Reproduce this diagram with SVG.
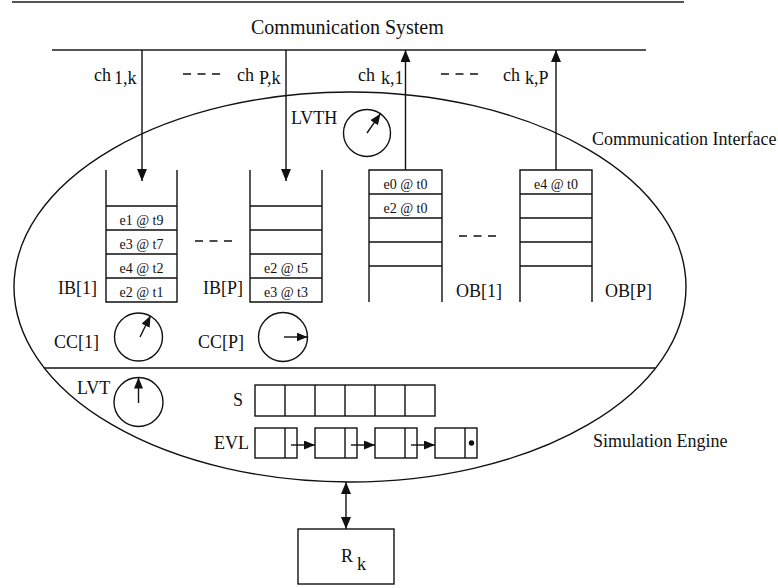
<svg xmlns="http://www.w3.org/2000/svg" width="778" height="588" viewBox="0 0 778 588">
<style>
  text { font-family: "Liberation Serif", "Times New Roman", serif; fill: #111; }
  .lbl { font-size: 18px; }
  .title { font-size: 20px; }
  .cell { font-size: 14px; text-anchor: middle; }
  .ln { stroke: #111; stroke-width: 1.4; fill: none; }
  .bus { stroke: #555; stroke-width: 2; fill: none; }
  .dash { stroke: #111; stroke-width: 1.4; stroke-dasharray: 8 6.5; fill: none; }
  .box { stroke: #111; stroke-width: 1.4; fill: #fff; }
</style>
<defs>
  <marker id="arr" viewBox="0 0 12 10" refX="12" refY="5" markerWidth="12" markerHeight="10" markerUnits="userSpaceOnUse" orient="auto-start-reverse">
    <path d="M0,0 L12,5 L0,10 z" fill="#111"/>
  </marker>
  <marker id="sarr" viewBox="0 0 11 9" refX="11" refY="4.5" markerWidth="11" markerHeight="9" markerUnits="userSpaceOnUse" orient="auto">
    <path d="M0,0 L11,4.5 L0,9 z" fill="#111"/>
  </marker>
</defs>

<g id="comm-system">
  <line class="bus" x1="12" y1="2" x2="684" y2="2"/>
  <text class="title" x="251" y="34">Communication System</text>
  <line class="bus" x1="52" y1="50" x2="646" y2="50"/>
</g>

<g id="interface-ellipse">
  <ellipse class="ln" cx="350" cy="287" rx="336" ry="195"/>
  <line class="ln" x1="44.4" y1="368" x2="655.6" y2="368"/>
  <text class="lbl" x="592" y="145">Communication Interface</text>
  <text class="lbl" x="593" y="447">Simulation Engine</text>
</g>

<g id="connectors">
  <line class="ln" x1="142" y1="50" x2="142" y2="181" marker-end="url(#arr)"/>
  <line class="ln" x1="286" y1="50" x2="286" y2="181" marker-end="url(#arr)"/>
  <line class="ln" x1="405.5" y1="170" x2="405.5" y2="50" marker-end="url(#arr)"/>
  <line class="ln" x1="556" y1="170" x2="556" y2="50" marker-end="url(#arr)"/>
  <line class="ln" x1="346" y1="482" x2="346" y2="529" marker-start="url(#arr)" marker-end="url(#arr)"/>
  <line class="dash" x1="183" y1="74" x2="220" y2="74"/>
  <line class="dash" x1="441" y1="74" x2="478" y2="74"/>
  <line class="dash" x1="195" y1="241" x2="232" y2="241"/>
  <line class="dash" x1="459" y1="236" x2="496" y2="236"/>
</g>

<g id="channel-labels">
  <text class="lbl" x="94" y="81">ch</text><text class="lbl" x="114" y="84">1,k</text>
  <text class="lbl" x="237" y="81">ch</text><text class="lbl" x="259" y="84">P,k</text>
  <text class="lbl" x="358" y="81">ch</text><text class="lbl" x="381" y="84">k,1</text>
  <text class="lbl" x="503" y="81">ch</text><text class="lbl" x="525" y="84">k,P</text>
</g>

<g id="lvth">
  <circle class="ln" cx="367" cy="133" r="23.5"/>
  <line class="ln" x1="367" y1="133" x2="380.5" y2="113.7" marker-end="url(#sarr)"/>
  <text class="lbl" x="291" y="124">LVTH</text>
</g>

<g id="ib1">
  <path class="ln" d="M106,170 V302 H177 V170 M106,206 H177 M106,230 H177 M106,254 H177 M106,278 H177"/>
  <text class="cell" x="141.5" y="225">e1 @ t9</text>
  <text class="cell" x="141.5" y="249">e3 @ t7</text>
  <text class="cell" x="141.5" y="273">e4 @ t2</text>
  <text class="cell" x="141.5" y="297">e2 @ t1</text>
  <text class="lbl" x="58" y="294">IB[1]</text>
</g>

<g id="ibp">
  <path class="ln" d="M250,170 V302 H322 V170 M250,206 H322 M250,230 H322 M250,254 H322 M250,278 H322"/>
  <text class="cell" x="286" y="273">e2 @ t5</text>
  <text class="cell" x="286" y="297">e3 @ t3</text>
  <text class="lbl" x="203" y="294">IB[P]</text>
</g>

<g id="ob1">
  <path class="ln" d="M369,302 V170 H442 V302 M369,194 H442 M369,218 H442 M369,242 H442 M369,266 H442"/>
  <text class="cell" x="405.5" y="189">e0 @ t0</text>
  <text class="cell" x="405.5" y="213">e2 @ t0</text>
  <text class="lbl" x="456" y="297">OB[1]</text>
</g>

<g id="obp">
  <path class="ln" d="M520,302 V170 H592 V302 M520,194 H592 M520,218 H592 M520,242 H592 M520,266 H592"/>
  <text class="cell" x="556" y="189">e4 @ t0</text>
  <text class="lbl" x="605" y="297">OB[P]</text>
</g>

<g id="cc1">
  <circle class="ln" cx="138.5" cy="337" r="24"/>
  <line class="ln" x1="140" y1="337" x2="150.5" y2="315.8" marker-end="url(#sarr)"/>
  <text class="lbl" x="54" y="348">CC[1]</text>
</g>

<g id="ccp">
  <circle class="ln" cx="283" cy="337" r="24.5"/>
  <line class="ln" x1="284" y1="337" x2="307.5" y2="337" marker-end="url(#sarr)"/>
  <text class="lbl" x="198" y="348">CC[P]</text>
</g>

<g id="lvt">
  <circle class="ln" cx="138.5" cy="402" r="24.5"/>
  <line class="ln" x1="138.5" y1="403" x2="138.5" y2="377.5" marker-end="url(#sarr)"/>
  <text class="lbl" x="77" y="394">LVT</text>
</g>

<g id="s-array">
  <rect class="box" x="255" y="385" width="180" height="31"/>
  <path class="ln" d="M285,385 V416 M315,385 V416 M345,385 V416 M375,385 V416 M405,385 V416"/>
  <text class="lbl" x="233" y="406">S</text>
</g>

<g id="evl">
  <rect class="box" x="255" y="428" width="42" height="30"/>
  <line class="ln" x1="285" y1="428" x2="285" y2="458"/>
  <rect class="box" x="315" y="428" width="42" height="30"/>
  <line class="ln" x1="345" y1="428" x2="345" y2="458"/>
  <rect class="box" x="375" y="428" width="42" height="30"/>
  <line class="ln" x1="405" y1="428" x2="405" y2="458"/>
  <rect class="box" x="435" y="428" width="42" height="30"/>
  <line class="ln" x1="465" y1="428" x2="465" y2="458"/>
  <circle cx="471.5" cy="443" r="2.7" fill="#111"/>
  <line class="ln" x1="291" y1="445" x2="315" y2="445" marker-end="url(#sarr)"/>
  <line class="ln" x1="351" y1="445" x2="375" y2="445" marker-end="url(#sarr)"/>
  <line class="ln" x1="411" y1="445" x2="435" y2="445" marker-end="url(#sarr)"/>
  <text class="lbl" x="249" y="449" text-anchor="end">EVL</text>
</g>

<g id="rk">
  <rect class="box" x="298" y="529" width="96" height="55"/>
  <text class="lbl" x="341" y="562">R</text>
  <text class="lbl" x="357" y="570">k</text>
</g>
</svg>
